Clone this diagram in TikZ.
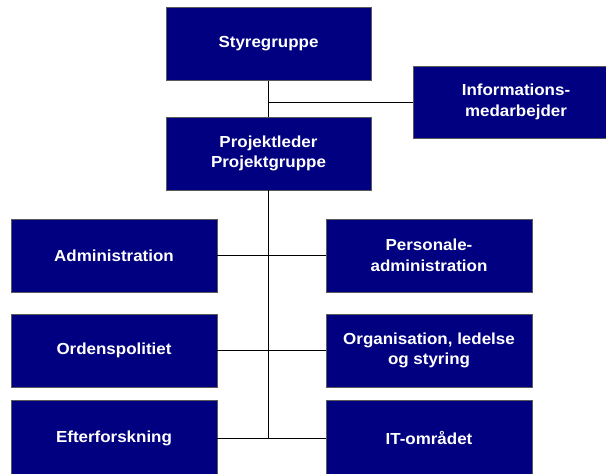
\documentclass[tikz,border=0pt]{standalone}
\usepackage{fontspec}
\setmainfont{Liberation Sans}[FakeStretch=1.06]
\definecolor{boxblue}{HTML}{000080}
\definecolor{boxedge}{HTML}{5A5A5A}
\begin{document}
\begin{tikzpicture}[x=1pt,y=-1pt,
  orgbox/.style={rectangle, fill=boxblue, draw=boxedge, line width=0.8pt,
    minimum width=206pt, minimum height=73pt, inner sep=0pt,
    text=white, align=center,
    font=\fontsize{16}{20.5}\selectfont\bfseries},
  link/.style={draw=black, line width=1pt}]
  \useasboundingbox (0,0) rectangle (606,474);
  \begin{scope}
  \clip (0,0) rectangle (606,474);
  % top of the hierarchy
  \node[orgbox, minimum width=205pt] (sty) at (268.5,44) {Styregruppe};
  \node[orgbox, minimum width=205pt] (pro) at (268.5,153.5) {Projektleder\\Projektgruppe};
  \node[orgbox, minimum height=72pt] (info) at (516,102) {Informations-\\medarbejder};
  % left column
  \node[orgbox] (adm) at (114,255.5) {Administration};
  \node[orgbox] (ord) at (114,350.5) {Ordenspolitiet};
  \node[orgbox, minimum height=75pt] (eft) at (114,438) {Efterforskning};
  % right column
  \node[orgbox] (pers) at (429,255.5) {Personale-\\administration};
  \node[orgbox] (org) at (429,350.5) {Organisation, ledelse\\og styring};
  \node[orgbox, minimum height=75pt] (it) at (429,438) {IT-området};
  % connectors
  \draw[link] (sty.south) -- (pro.north);
  \draw[link] (sty.south |- info.west) -- (info.west);
  \draw[link] (pro.south) -- (pro.south |- adm.east);
  \draw[link] (pro.south |- adm.east) -- (pro.south |- eft.east);
  \draw[link] (adm.east) -- (pers.west);
  \draw[link] (ord.east) -- (org.west);
  \draw[link] (eft.east) -- (it.west);
  \end{scope}
\end{tikzpicture}
\end{document}
